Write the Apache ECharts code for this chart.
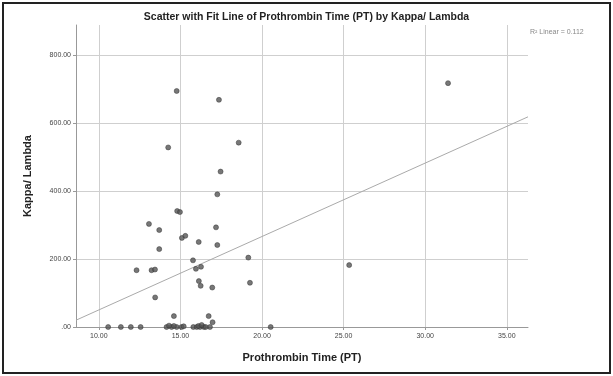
<!DOCTYPE html>
<html lang="en">
<head>
    <meta charset="UTF-8">
    <title>Scatter PT vs Kappa/Lambda</title>
    <script src="https://cdn.jsdelivr.net/npm/echarts@6/dist/echarts.min.js"></script>
    <style>
        html, body { margin: 0; padding: 0; background: #fff; }
        #main { width: 613px; height: 376px; }
    </style>
</head>
<body>
    <div id="main"></div>
<script>
    // Prothrombin Time (PT) values
    var ptValues = [
        10.57, 11.35, 11.96, 12.56, 12.31, 13.07, 13.23, 13.44, 13.45, 13.70,
        13.70, 14.15, 14.25, 14.46, 14.60, 14.77, 14.77, 14.80, 14.97, 15.07,
        15.09, 15.30, 15.77, 15.79, 15.95, 16.00, 16.12, 16.13, 16.20, 16.24,
        16.26, 16.44, 16.73, 16.81, 16.95, 16.97, 17.18, 17.26, 17.26, 17.36,
        17.46, 18.57, 19.16, 19.26, 20.53, 25.34, 31.40, 14.30, 14.60, 15.20,
        16.10, 16.30, 16.55
    ];
    // Kappa/Lambda values, same order
    var klValues = [
        0, 0, 0, 0, 167, 303, 167, 169, 87, 285,
        229, 0, 528, 0, 32, 694, 0, 341, 338, 0,
        262, 268, 196, 0, 171, 0, 250, 135, 0, 121,
        177, 0, 32, 0, 116, 14, 293, 390, 241, 668,
        457, 542, 204, 130, 0, 182, 717, 4, 3, 2,
        3, 6, 0
    ];
    // linear fit line ends (R2 = 0.112)
    var fitX = [8.6, 36.3];
    var fitY = [20, 618];

    var xTicks = [10, 15, 20, 25, 30, 35];
    var xTickLabels = ['10.00', '15.00', '20.00', '25.00', '30.00', '35.00'];
    var yTicks = [0, 200, 400, 600, 800];
    var yTickLabels = ['.00', '200.00', '400.00', '600.00', '800.00'];

    var points = ptValues.map(function (v, i) { return [v, klValues[i]]; });
    var fitLine = fitX.map(function (v, i) { return [v, fitY[i]]; });

    var chart = echarts.init(document.getElementById('main'));
    var font = 'Liberation Sans, Arial, sans-serif';

    chart.setOption({
        backgroundColor: '#fff',
        animation: false,
        title: {
            text: 'Scatter with Fit Line of Prothrombin Time (PT) by Kappa/ Lambda',
            left: 'center',
            top: 7,
            textStyle: { fontFamily: font, fontSize: 10.5, fontWeight: 'bold', color: '#222' }
        },
        grid: { left: 76, right: 85, top: 25, bottom: 49 },
        xAxis: {
            type: 'value',
            min: 8.6,
            max: 36.3,
            name: 'Prothrombin Time (PT)',
            nameLocation: 'middle',
            nameGap: 25,
            nameTextStyle: { fontFamily: font, fontSize: 11, fontWeight: 'bold', color: '#222' },
            axisLine: { show: true, lineStyle: { color: '#999', width: 1 } },
            axisTick: { show: true, length: 3, customValues: xTicks, lineStyle: { color: '#999' } },
            axisLabel: {
                customValues: xTicks,
                formatter: function (v) { return xTickLabels[xTicks.indexOf(v)]; },
                fontFamily: font, fontSize: 7, color: '#444', margin: 6
            },
            splitLine: { show: true, lineStyle: { color: '#cfcfcf', width: 1 } }
        },
        yAxis: {
            type: 'value',
            min: 0,
            max: 888,
            name: 'Kappa/ Lambda',
            nameLocation: 'middle',
            nameGap: 43,
            nameTextStyle: { fontFamily: font, fontSize: 11, fontWeight: 'bold', color: '#222' },
            axisLine: { show: true, lineStyle: { color: '#999', width: 1 } },
            axisTick: { show: true, length: 3, customValues: yTicks, lineStyle: { color: '#999' } },
            axisLabel: {
                customValues: yTicks,
                formatter: function (v) { return yTickLabels[yTicks.indexOf(v)]; },
                fontFamily: font, fontSize: 7, color: '#444', margin: 5
            },
            splitLine: { show: true, lineStyle: { color: '#cfcfcf', width: 1 } }
        },
        graphic: [
            {
                type: 'rect',
                shape: { x: 3, y: 3, width: 607, height: 370 },
                style: { fill: 'none', stroke: '#222', lineWidth: 2 },
                silent: true
            },
            {
                type: 'text',
                left: 530,
                top: 29,
                style: { text: 'R\u00b2 Linear = 0.112', fontFamily: font, fontSize: 7, fill: '#888' }
            }
        ],
        series: [
            {
                type: 'line',
                data: fitLine,
                symbol: 'none',
                lineStyle: { color: '#aaa', width: 1 },
                z: 1
            },
            {
                type: 'scatter',
                data: points,
                symbolSize: 5,
                itemStyle: { color: '#555', borderColor: '#333', borderWidth: 0.6 },
                z: 3
            }
        ]
    });
</script>
</body>
</html>
